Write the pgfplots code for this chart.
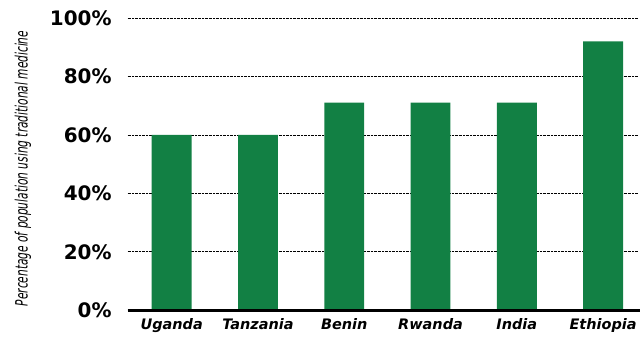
\documentclass[border=0pt]{standalone}
\usepackage{pgfplots}
\pgfplotsset{compat=1.18}
\usepackage{fontspec}
\setmainfont{DejaVu Sans}
\definecolor{bargreen}{RGB}{18,128,68}
\begin{document}
\begin{tikzpicture}
\begin{axis}[
  scale only axis, width=512pt, height=293pt,
  xmin=-0.51, xmax=5.41, ymin=0, ymax=100,
  clip=false,
  axis line style={draw=none},
  ytick={0,20,40,60,80,100},
  ymajorgrids, grid style={densely dotted, black, line width=0.7pt},
  major tick length=0pt,
  /pgf/number format/assume math mode=true,
  yticklabel={\pgfmathprintnumber{\tick}\%},
  yticklabel style={font=\bfseries\fontsize{20}{20}\selectfont, inner sep=0pt, xshift=-16pt},
  xtick={0,1,2,3,4,5},
  xticklabels={Uganda,Tanzania,Benin,Rwanda,India,Ethiopia},
  xticklabel style={font=\bfseries\itshape\fontsize{14.5}{14.5}\selectfont, inner sep=0pt, yshift=-8pt},
  ylabel={\resizebox{276pt}{\height}{\itshape\fontsize{17}{17}\selectfont Percentage of population using traditional medicine}},
  ylabel style={at={(rel axis cs:-0.205,0.485)}, anchor=center},
]
\addplot[ybar, bar width=40pt, fill=bargreen, draw=none] coordinates {
  (0,60) (1,60) (2,71) (3,71) (4,71) (5,92)
};
\draw[black, line width=3pt] (rel axis cs:0,0) -- (rel axis cs:1.002,0);
\path (rel axis cs:-0.25,-0.0956) rectangle (rel axis cs:1.002,1.0614);
\end{axis}
\end{tikzpicture}
\end{document}
